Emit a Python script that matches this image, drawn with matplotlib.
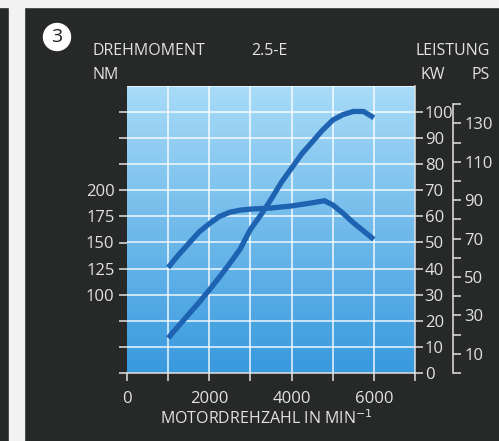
import numpy as np
import matplotlib.pyplot as plt
from matplotlib.patches import Rectangle, Circle

# engine speed / power / torque
rpm_kw = [1000, 1250, 1500, 1750, 2000, 2250, 2500, 2750, 3000, 3250, 3500, 3750,
          4000, 4250, 4500, 4750, 5000, 5250, 5500, 5750, 6000]
power_kw = [13.4, 18.0, 22.5, 27.0, 31.8, 36.8, 42.0, 47.5, 55.0, 60.5, 66.5, 73.0,
            78.5, 84.0, 88.5, 93.0, 96.9, 99.0, 100.2, 100.2, 97.8]

rpm_nm = [1000, 1250, 1500, 1750, 2000, 2250, 2500, 2750, 3000, 3500, 4000,
          4500, 4800, 5000, 5250, 5500, 5750, 6000]
torque_nm = [126, 138, 149, 160, 168, 175, 179, 181, 182, 183, 185,
             188, 190, 186, 178, 169, 161, 153]

kw_ticks = list(range(0, 101, 10))
ps_ticks = list(range(0, 141, 10))
ps_labels = [str(t) if t % 20 == 10 else '' for t in ps_ticks]
nm_ticks = list(range(25, 276, 25))
nm_labels = [str(t) if 100 <= t <= 200 else '' for t in nm_ticks]
x_ticks = list(range(0, 7001, 1000))
x_labels = [str(t) if t % 2000 == 0 else '' for t in x_ticks]

fg = '#e2e2e0'
curve = '#1e62b2'
plt.rcParams['font.family'] = ['Open Sans', 'DejaVu Sans']
tsize = 12

W, H = 499, 441
fig = plt.figure(figsize=(W / 100, H / 100), dpi=100)
fig.patch.set_facecolor('#262927')
# white paper edges of the scan
fig.patches.append(Rectangle((0, 1 - 7 / H), 1, 7 / H, transform=fig.transFigure,
                             color='#f2f2f2', zorder=0))
fig.patches.append(Rectangle((9 / W, 0), 15 / W, 1, transform=fig.transFigure,
                             color='#f2f2f2', zorder=0))

def fx(x):
    return x / W

def fy(y):
    return 1 - y / H

left, right, top, bottom = 127, 415, 86, 373
ax = fig.add_axes([fx(left), fy(bottom), (right - left) / W, (bottom - top) / H])
kw_max = (bottom - top) / 2.61
ax.set_xlim(0, 7000)
ax.set_ylim(0, kw_max)

# blue gradient background
grad = np.linspace(0, 1, 256).reshape(-1, 1)
c_top = np.array([0.66, 0.86, 0.97])
c_bot = np.array([0.22, 0.60, 0.87])
img = c_bot + (c_top - c_bot) * grad
ax.imshow(img[:, None, :].repeat(2, axis=1), extent=[0, 7000, 0, kw_max],
          origin='lower', aspect='auto', zorder=0)

for x in range(1000, 7000, 1000):
    ax.axvline(x, color='white', lw=1.1, alpha=0.9, zorder=1)
for y in range(10, 111, 10):
    ax.axhline(y, color='white', lw=1.1, alpha=0.9, zorder=1)

ax.plot(rpm_kw, power_kw, color=curve, lw=3.8, solid_capstyle='butt', zorder=3)

# torque on the left scale
ax_nm = ax.twinx()
ax_nm.set_ylim(2.5 * 10, 2.5 * (kw_max + 10))
ax_nm.plot(rpm_nm, torque_nm, color=curve, lw=3.8, solid_capstyle='butt', zorder=3)
for s in ax_nm.spines.values():
    s.set_visible(False)

# PS scale
ax_ps = ax.twinx()
ax_ps.set_ylim(0, kw_max / 0.7355)
ax_ps.spines['right'].set_position(('axes', (453 - left) / (right - left)))
ax_ps.spines['right'].set_bounds(0, 140)
ax_ps.spines['right'].set_color(fg)
ax_ps.spines['right'].set_linewidth(1.1)
for s in ['top', 'left', 'bottom']:
    ax_ps.spines[s].set_visible(False)
ax_ps.set_yticks(ps_ticks)
ax_ps.set_yticklabels(ps_labels)
ax_ps.tick_params(axis='y', colors=fg, labelcolor=fg, labelsize=tsize, length=6,
                  width=1.1, pad=2)

# kW axis on the right of the plot, Nm on the left (after twinx calls)
ax.set_xticks(x_ticks)
ax.set_xticklabels(x_labels)
ax.yaxis.tick_right()
ax.set_yticks(kw_ticks)
ax.tick_params(axis='both', colors=fg, labelcolor=fg, labelsize=tsize, length=6,
               width=1.1, direction='out')
ax.tick_params(axis='y', pad=1)
ax.tick_params(axis='x', pad=7)
for s in ['top', 'left']:
    ax.spines[s].set_visible(False)
for s in ['bottom', 'right']:
    ax.spines[s].set_color(fg)
    ax.spines[s].set_linewidth(1.1)

ax_nm.yaxis.tick_left()
ax_nm.set_yticks(nm_ticks)
ax_nm.set_yticklabels(nm_labels)
ax_nm.tick_params(axis='y', colors=fg, labelcolor=fg, labelsize=tsize, length=6,
                  width=1.1, pad=3)

# header texts
fig.patches.append(Circle((57, H - 37), 13.5, transform=None, color='white', zorder=5))
fig.text(fx(57), fy(37), '3', color='#202020', fontsize=14, ha='center', va='center',
         zorder=6)
kw = dict(color=fg, fontsize=11.5)
fig.text(fx(93), fy(55), 'DREHMOMENT', ha='left', va='baseline', **kw)
fig.text(fx(93), fy(79), 'NM', ha='left', va='baseline', **kw)
fig.text(fx(251), fy(55), '2.5-E', ha='left', va='baseline', **kw)
fig.text(fx(490), fy(55), 'LEISTUNG', ha='right', va='baseline', **kw)
fig.text(fx(420), fy(79), 'KW', ha='left', va='baseline', **kw)
fig.text(fx(490), fy(79), 'PS', ha='right', va='baseline', **kw)
fig.text(fx(266), fy(424), 'MOTORDREHZAHL IN MIN$^{-1}$', ha='center', va='baseline', **kw)

fig.savefig('out.png', dpi=100, facecolor=fig.get_facecolor())
